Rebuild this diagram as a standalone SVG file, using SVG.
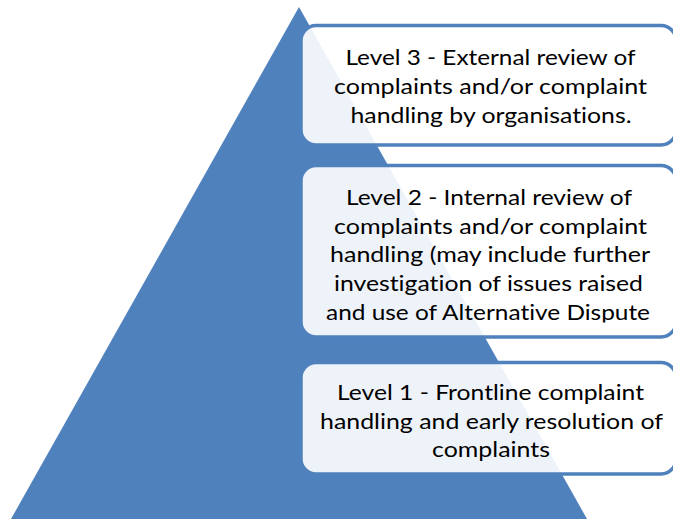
<svg xmlns="http://www.w3.org/2000/svg" width="673" height="519" viewBox="0 0 673 519">
<defs>
<style>
.box{fill:#FFFFFF;fill-opacity:0.9;stroke:#4F81BD;stroke-width:3.5}
.t{font-family:Lato,"Liberation Sans",sans-serif;font-size:22px;fill:#000000;text-anchor:middle;font-variant-ligatures:none;font-feature-settings:"liga" 0}
</style>
<clipPath id="clip2"><rect x="301" y="165" width="380" height="157.5"/></clipPath>
</defs>
<rect width="673" height="519" fill="#FFFFFF"/>
<g id="pyramid">
<polygon points="299,7 587,519 11,519" fill="#4F81BD"/>
</g>
<g id="level3">
<rect class="box" x="301" y="25.5" width="375" height="119.5" rx="15" ry="15"/>
<text class="t" x="490.5" y="65" textLength="290" lengthAdjust="spacingAndGlyphs">Level 3 - External review of</text>
<text class="t" x="490.5" y="94" textLength="313" lengthAdjust="spacingAndGlyphs">complaints and/or complaint</text>
<text class="t" x="491" y="123" textLength="281" lengthAdjust="spacingAndGlyphs">handling by organisations.</text>
</g>
<g id="level2">
<rect class="box" x="301" y="165.5" width="375" height="171.5" rx="15" ry="15"/>
<g clip-path="url(#clip2)">
<text class="t" x="489" y="205" textLength="286" lengthAdjust="spacingAndGlyphs">Level 2 - Internal review of</text>
<text class="t" x="490.5" y="233.5" textLength="313" lengthAdjust="spacingAndGlyphs">complaints and/or complaint</text>
<text class="t" x="490" y="262" textLength="320" lengthAdjust="spacingAndGlyphs">handling (may include further</text>
<text class="t" x="488.5" y="290.5" textLength="309" lengthAdjust="spacingAndGlyphs">investigation of issues raised</text>
<text class="t" x="488" y="319.5" textLength="324" lengthAdjust="spacingAndGlyphs">and use of Alternative Dispute</text>
</g>
</g>
<g id="level1">
<rect class="box" x="301" y="362.5" width="375" height="111.5" rx="15" ry="15"/>
<text class="t" x="490.5" y="400" textLength="307" lengthAdjust="spacingAndGlyphs">Level 1 - Frontline complaint</text>
<text class="t" x="491.5" y="428.5" textLength="343" lengthAdjust="spacingAndGlyphs">handling and early resolution of</text>
<text class="t" x="491" y="457" textLength="118" lengthAdjust="spacingAndGlyphs">complaints</text>
</g>
</svg>
